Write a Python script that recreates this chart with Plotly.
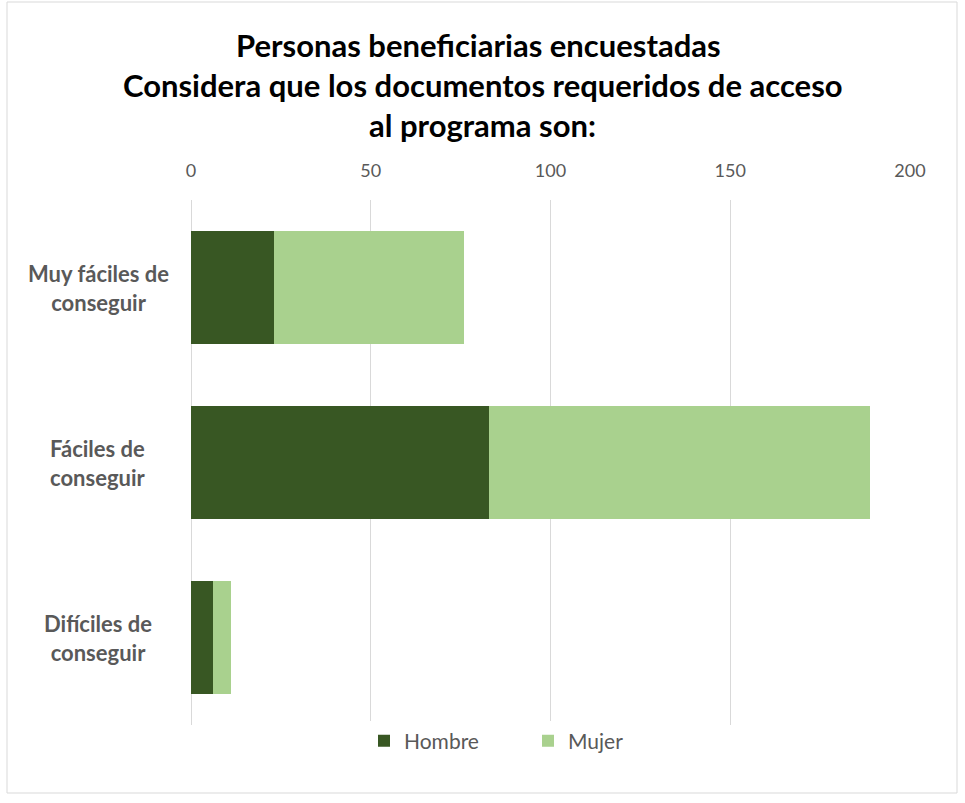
import plotly.graph_objects as go

categorias = ["Muy fáciles de<br>conseguir", "Fáciles de<br>conseguir", "Difíciles de<br>conseguir"]
hombre = [23, 83, 6]
mujer = [53, 106, 5]
ticks = [0, 50, 100, 150, 200]
titulo = ["Personas beneficiarias encuestadas",
          "Considera que los documentos requeridos de acceso",
          "al programa son:"]

W, H = 965, 803
L, R, T, B = 191, 55, 200, 78
ph = H - T - B
pw = W - L - R

def py(p):
    return (H - B - p) / ph

def px(p):
    return (p - L) / pw

fig = go.Figure()
fig.add_trace(go.Bar(y=categorias, x=hombre, name="Hombre", orientation="h",
                     marker=dict(color="#385723", line=dict(width=0))))
fig.add_trace(go.Bar(y=categorias, x=mujer, name="Mujer", orientation="h",
                     marker=dict(color="#A9D18E", line=dict(width=0))))

annos = []
for t, cx, yy in zip(titulo, [478, 483, 482], [45, 85, 125]):
    annos.append(dict(text="<b>" + t + "</b>", x=px(cx), y=py(yy), xref="paper", yref="paper",
                      xanchor="center", yanchor="middle", showarrow=False,
                      font=dict(family="Lato", size=31, color="#000000")))
for c in categorias:
    annos.append(dict(text="<b>" + c + "</b>", x=px(98), y=c, xref="paper", yref="y",
                      xanchor="center", yanchor="middle", showarrow=False, align="center",
                      font=dict(family="Lato", size=22, color="#595959")))

fig.update_layout(
    width=W, height=H,
    margin=dict(l=L, r=R, t=T, b=B),
    barmode="stack",
    bargap=0.354,
    paper_bgcolor="white", plot_bgcolor="white",
    annotations=annos,
    showlegend=True,
    legend=dict(orientation="h", x=px(364), y=py(741), xanchor="left", yanchor="middle",
                font=dict(family="Lato", size=21, color="#595959"),
                entrywidth=119, entrywidthmode="pixels",
                traceorder="normal"),
    xaxis=dict(side="top", range=[0, 200], tickvals=ticks, showgrid=True, gridcolor="#D9D9D9",
               gridwidth=1, zeroline=True, zerolinecolor="#D9D9D9", zerolinewidth=1,
               showline=False, ticks="",
               ticklabelstandoff=18,
               tickfont=dict(family="Lato", size=18, color="#595959")),
    yaxis=dict(autorange="reversed", showgrid=False, showline=False, ticks="",
               showticklabels=False),
    shapes=[dict(type="rect", xref="paper", yref="paper", x0=px(7), x1=px(957), y0=py(793), y1=py(2),
                 line=dict(color="#D9D9D9", width=1), fillcolor="rgba(0,0,0,0)", layer="below")],
)
fig.write_html("out.html", config={"displayModeBar": False},
               post_script="document.body.style.margin='0';document.body.style.overflow='hidden';")
